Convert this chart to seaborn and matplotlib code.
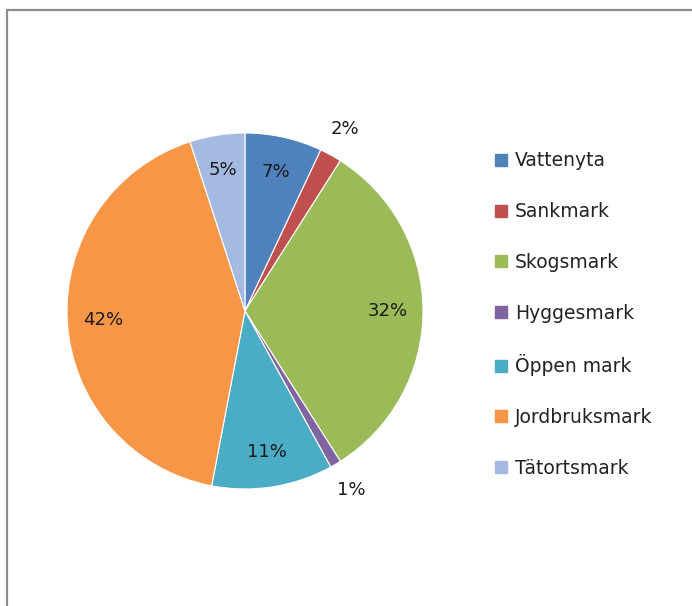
import matplotlib
matplotlib.use("Agg")
import matplotlib.pyplot as plt
import seaborn as sns
import numpy as np
from matplotlib.lines import Line2D

sns.set_theme(style="white")
plt.rcParams["font.family"] = ["DejaVu Sans"]

categories = ["Vattenyta", "Sankmark", "Skogsmark", "Hyggesmark",
              "Öppen mark", "Jordbruksmark", "Tätortsmark"]
shares = [7, 2, 32, 1, 11, 42, 5]
colors = ["#4F81BD", "#C0504D", "#9BBB59", "#8064A2",
          "#4BACC6", "#F79646", "#A5BAE0"]

fig = plt.figure(figsize=(6.92, 6.06), dpi=100)
W, H = 692, 606

# pie axes: centre (245, 311), radius ~178 px
R = 178
cx, cy = 245, 311
ax = fig.add_axes([(cx - R) / W, 1 - (cy + R) / H, 2 * R / W, 2 * R / H])

wedges, _ = ax.pie(shares, colors=colors, startangle=90, counterclock=False,
                   radius=1.0, wedgeprops=dict(edgecolor="white", linewidth=0.8))
ax.set_xlim(-1, 1)
ax.set_ylim(-1, 1)
ax.set_aspect("equal")
ax.axis("off")

# percentage labels: inside the slice, small slices just outside
total = float(sum(shares))
start = 90.0
for val in shares:
    sweep = 360.0 * val / total
    mid = np.deg2rad(start - sweep / 2)
    start -= sweep
    r = 0.8 if val >= 5 else 1.17
    ax.text(r * np.cos(mid), r * np.sin(mid), f"{val}%", ha="center",
            va="center", fontsize=13, color="#1A1A1A", clip_on=False)

# legend
handles = [Line2D([0], [0], marker="s", linestyle="none", markersize=8.5,
                  markerfacecolor=c, markeredgecolor=c) for c in colors]
fig.legend(handles, categories, loc="upper left",
           bbox_to_anchor=(486 / W, 1 - 144 / H), frameon=False,
           fontsize=13.5, labelspacing=1.69, handletextpad=0.35,
           handlelength=0.8, borderaxespad=0, labelcolor="#222222")

# chart frame edges
fig.add_artist(Line2D([7 / W, 1], [1 - 10 / H, 1 - 10 / H], color="#8C8C8C",
                      linewidth=1.6, transform=fig.transFigure))
fig.add_artist(Line2D([7 / W, 7 / W], [0, 1 - 10 / H], color="#8C8C8C",
                      linewidth=1.6, transform=fig.transFigure))

fig.savefig("out.png", dpi=100, facecolor="white")
